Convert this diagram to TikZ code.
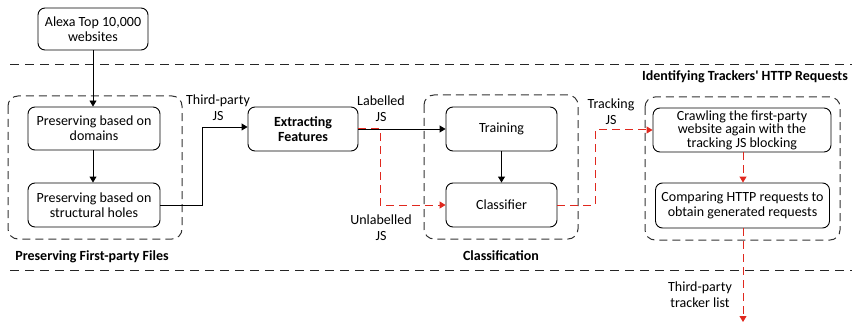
\documentclass[tikz,border=0pt]{standalone}
\usepackage{fontspec}
\setmainfont{Carlito}
\usetikzlibrary{arrows.meta}
\definecolor{redline}{RGB}{224,40,30}
\definecolor{grp}{RGB}{50,50,50}
\tikzset{
  box/.style={draw, rounded corners=7pt, align=center, inner sep=1pt, font=\fontsize{14}{15}\selectfont, line width=0.9pt},
  grpbox/.style={draw=grp, dash pattern=on 8pt off 5pt, rounded corners=10pt, line width=1pt},
  sep/.style={draw=black!85, dash pattern=on 9pt off 6pt, line width=1pt},
  arr/.style={-{Triangle[length=6pt,width=7pt]}, line width=0.9pt},
  rarr/.style={-{Triangle[length=6pt,width=7pt]}, color=redline, dash pattern=on 8pt off 5pt, line width=1pt},
  lbl/.style={align=center, font=\fontsize{14}{16}\selectfont},
  title/.style={font=\bfseries\fontsize{14}{16}\selectfont},
}
\begin{document}
\begin{tikzpicture}[x=1pt,y=-1pt]
\useasboundingbox (0,0) rectangle (859,326);
% separators
\coordinate (s1a) at (10,65); \coordinate (s1b) at (852,65);
\coordinate (s2a) at (10,270); \coordinate (s2b) at (852,270);
\draw[sep] (s1a) -- (s1b);
\draw[sep] (s2a) -- (s2b);
% groups
\draw[grpbox] (8,96) rectangle (182,239);
\draw[grpbox] (424,95) rectangle (578,239);
\draw[grpbox] (645,97) rectangle (840,240);
% nodes
\node[box, minimum width=110pt, minimum height=42pt] (alexa) at (93,29) {Alexa Top 10,000\\websites};
\node[box, minimum width=132pt, minimum height=43pt] (dom) at (94,128.5) {Preserving based on\\domains};
\node[box, minimum width=132pt, minimum height=44pt] (hol) at (94,205) {Preserving based on\\structural holes};
\node[box, minimum width=110pt, minimum height=44pt, font=\bfseries\fontsize{14}{15}\selectfont] (ext) at (303,129) {Extracting\\Features};
\node[box, minimum width=111pt, minimum height=44pt] (tra) at (501.5,129) {Training};
\node[box, minimum width=111pt, minimum height=44pt] (cla) at (501.5,205) {Classifier};
\node[box, minimum width=178pt, minimum height=44pt, font=\fontsize{14}{13.5}\selectfont] (cra) at (742,130) {Crawling the first-party\\website again with the\\tracking JS blocking};
\node[box, minimum width=174pt, minimum height=45pt] (cmp) at (742.5,205.5) {Comparing HTTP requests to\\obtain generated requests};
% labels
\node[title] (t1) at (92,257) {Preserving First-party Files};
\node[title] (t2) at (501,256) {Classification};
\node[title] (t3) at (745,77) {Identifying Trackers\textquotesingle\ HTTP Requests};
\node[lbl] (l1) at (218,108) {Third-party\\JS};
\node[lbl] (l2) at (381,109) {Labelled\\JS};
\node[lbl] (l3) at (381,228) {Unlabelled\\JS};
\node[lbl] (l4) at (611,112) {Tracking\\JS};
\node[lbl] (l5) at (700,295) {Third-party\\tracker list};
% connectors
\coordinate (end) at (743,322);
\draw[arr] (alexa.south) -- (alexa.south |- dom.north);
\draw[arr] (dom.south -| alexa.south) -- (hol.north -| alexa.south);
\draw[arr] (hol.east) -- (202,205) -- (202,127) -- (ext.west |- 0,127);
\draw[arr] (ext.east) -- (tra.west);
\draw[rarr] (ext.east) -- (380,129) -- (380,205) -- (cla.west);
\draw[arr] (tra.south) -- (cla.north);
\draw[rarr] (cla.east) -- (595,205) -- (595,130) -- (cra.west);
\draw[rarr] (cra.south -| 743,0) -- (cmp.north -| 743,0);
\draw[rarr] (cmp.south -| 743,0) -- (end);
\end{tikzpicture}
\end{document}
